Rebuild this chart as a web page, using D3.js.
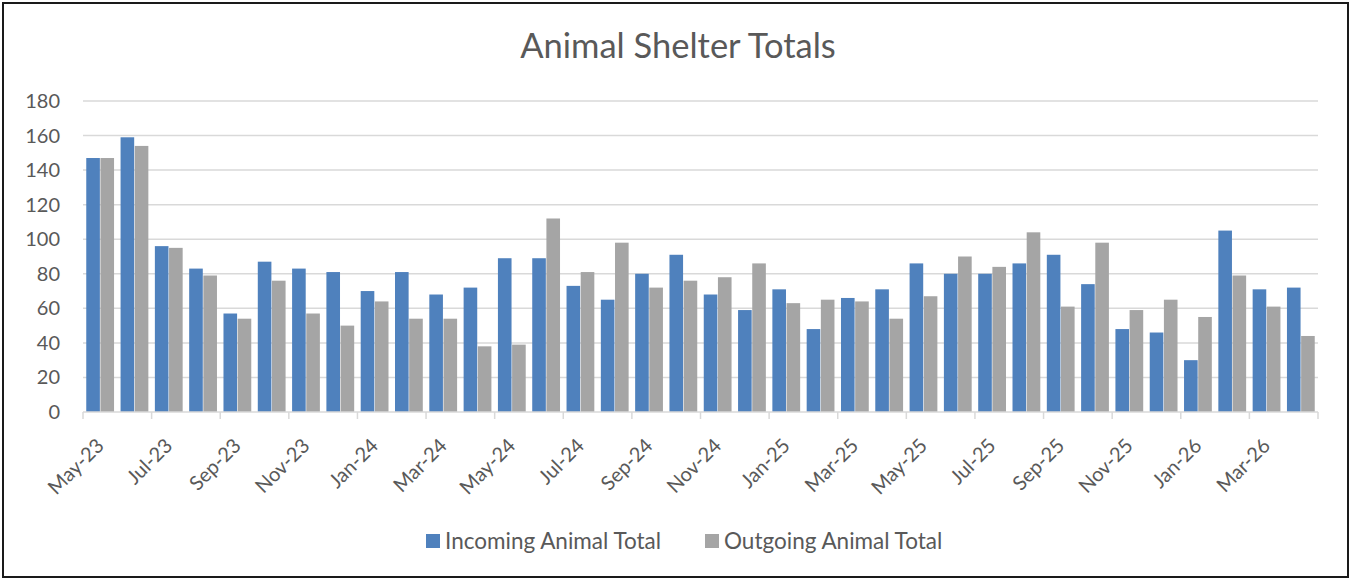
<!DOCTYPE html>
<html>
<head>
<meta charset="utf-8">
<script src="https://cdn.jsdelivr.net/npm/d3@7"></script>
<style>
  html, body { margin: 0; padding: 0; background: #fff; }
  svg { display: block; font-family: Lato, "Open Sans", sans-serif; }
</style>
</head>
<body>
<svg id="chart" width="1351" height="579"></svg>
<script>
const months = ["May-23","Jun-23","Jul-23","Aug-23","Sep-23","Oct-23","Nov-23","Dec-23",
  "Jan-24","Feb-24","Mar-24","Apr-24","May-24","Jun-24","Jul-24","Aug-24","Sep-24","Oct-24","Nov-24","Dec-24",
  "Jan-25","Feb-25","Mar-25","Apr-25","May-25","Jun-25","Jul-25","Aug-25","Sep-25","Oct-25","Nov-25","Dec-25",
  "Jan-26","Feb-26","Mar-26","Apr-26"];
const incoming = [147,159,96,83,57,87,83,81,70,81,68,72,89,89,73,65,80,91,68,59,71,48,66,71,86,80,80,86,91,74,48,46,30,105,71,72];
const outgoing = [147,154,95,79,54,76,57,50,64,54,54,38,39,112,81,98,72,76,78,86,63,65,64,54,67,90,84,104,61,98,59,65,55,79,61,44];
const seriesNames = ["Incoming Animal Total","Outgoing Animal Total"];
const seriesColors = ["#4F81BD","#A5A5A5"];
const yTicks = [0,20,40,60,80,100,120,140,160,180];

const svg = d3.select("#chart");
const W = 1351, H = 579;
const pLeft = 83, pRight = 1318, pTop = 101, pBottom = 412;

svg.append("rect").attr("x",0).attr("y",0).attr("width",W).attr("height",H).attr("fill","#fff");
svg.append("rect").attr("x",3).attr("y",3).attr("width",W-6).attr("height",H-5)
  .attr("fill","none").attr("stroke","#1a1a1a").attr("stroke-width",2);

const x = d3.scaleBand().domain(months).range([pLeft,pRight]).paddingInner(0.19).paddingOuter(0.095);
const xs = d3.scaleBand().domain([0,1]).range([0,x.bandwidth()]).paddingInner(0.04);
const y = d3.scaleLinear().domain([0,180]).range([pBottom,pTop]);

// gridlines
svg.append("g").selectAll("line").data(yTicks.filter(d=>d>0)).join("line")
  .attr("x1",pLeft).attr("x2",pRight).attr("y1",d=>y(d)).attr("y2",d=>y(d))
  .attr("stroke","#D9D9D9").attr("stroke-width",1.5);

// y labels
svg.append("g").selectAll("text").data(yTicks).join("text")
  .attr("x",60).attr("y",d=>y(d)).attr("dy","0.35em").attr("text-anchor","end")
  .attr("font-size",20).attr("fill","#595959").text(d=>d);

// bars
const data = months.map((m,i)=>({m, vals:[incoming[i],outgoing[i]]}));
const g = svg.append("g").selectAll("g").data(data).join("g")
  .attr("transform",d=>`translate(${x(d.m)},0)`);
g.selectAll("rect").data(d=>d.vals.map((v,k)=>({v,k}))).join("rect")
  .attr("x",d=>xs(d.k)).attr("width",xs.bandwidth())
  .attr("y",d=>y(d.v)).attr("height",d=>y(0)-y(d.v))
  .attr("fill",d=>seriesColors[d.k]);

// x axis line and ticks
svg.append("line").attr("x1",pLeft).attr("x2",pRight).attr("y1",pBottom).attr("y2",pBottom)
  .attr("stroke","#D9D9D9").attr("stroke-width",1.5);
const step = x.step();
const tickIdx = d3.range(0, months.length+1, 2);
svg.append("g").selectAll("line").data(tickIdx).join("line")
  .attr("x1",i=>pLeft+i*step).attr("x2",i=>pLeft+i*step)
  .attr("y1",pBottom).attr("y2",pBottom+7)
  .attr("stroke","#D9D9D9").attr("stroke-width",1.5);

// x labels
svg.append("g").selectAll("text").data(months.filter((m,i)=>i%2===0)).join("text")
  .attr("transform",m=>`translate(${x(m)+x.bandwidth()/2},${pBottom+30}) rotate(-45)`)
  .attr("text-anchor","end").attr("dy","0.35em")
  .attr("font-size",20).attr("fill","#595959").text(m=>m);

// title
svg.append("text").attr("x",678).attr("y",58).attr("text-anchor","middle")
  .attr("font-size",34.5).attr("fill","#595959").text("Animal Shelter Totals");

// legend
const legendX = [426, 705];
const lg = svg.append("g").selectAll("g").data(seriesNames).join("g")
  .attr("transform",(d,i)=>`translate(${legendX[i]},534)`);
lg.append("rect").attr("width",14).attr("height",14).attr("fill",(d,i)=>seriesColors[i]);
lg.append("text").attr("x",19).attr("y",7).attr("dy","0.35em")
  .attr("font-size",22.5).attr("fill","#595959").text(d=>d);
</script>
</body>
</html>
